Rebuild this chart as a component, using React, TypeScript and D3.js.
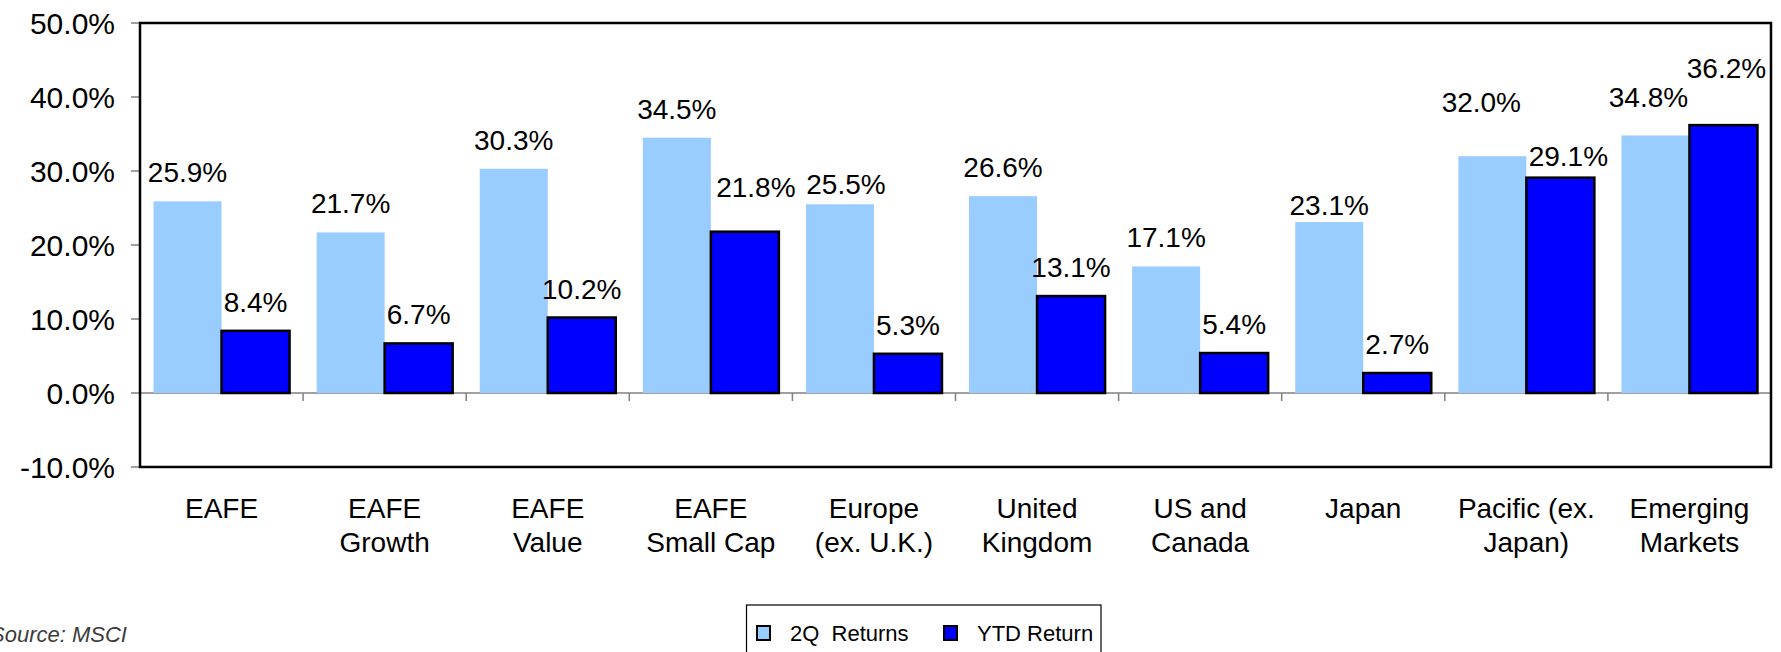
import * as d3 from "d3";

const categories = [
  "EAFE",
  "EAFE\nGrowth",
  "EAFE\nValue",
  "EAFE\nSmall Cap",
  "Europe\n(ex. U.K.)",
  "United\nKingdom",
  "US and\nCanada",
  "Japan",
  "Pacific (ex.\nJapan)",
  "Emerging\nMarkets",
];
const q2Returns = [25.9, 21.7, 30.3, 34.5, 25.5, 26.6, 17.1, 23.1, 32.0, 34.8];
const ytdReturns = [8.4, 6.7, 10.2, 21.8, 5.3, 13.1, 5.4, 2.7, 29.1, 36.2];
const yTicks = [-10, 0, 10, 20, 30, 40, 50];
const seriesKeys = ["q2", "ytd"];
const seriesNames = ["2Q  Returns", "YTD Return"];
const seriesColors = ["#99ccff", "#0000ff"];

// hand-placed labels in the original (to dodge neighbours)
const labelNudge: { [k: string]: [number, number] } = {
  "ytd-3": [11, -16],
  "q2-4": [6, 9],
  "q2-7": [0, 12],
  "q2-8": [-11, -25],
  "ytd-8": [8, 7],
  "q2-9": [-7, -9],
  "ytd-9": [3, -28],
};

const width = 1781;
const height = 652;
const font = "'Liberation Sans', Arial, sans-serif";

export default function App() {
  const left = 140, right = 1771, top = 23, bottom = 467;

  const y = d3.scaleLinear().domain([-10, 50]).range([bottom, top]);

  const x0 = d3
    .scaleBand()
    .domain(categories)
    .range([left, right])
    .paddingInner(0.166)
    .paddingOuter(0.083);

  const x1 = d3.scaleBand().domain(seriesKeys).range([0, x0.bandwidth()]);

  const step = x0.step();
  const series = [q2Returns, ytdReturns];

  return (
    <svg
      width={width}
      height={height}
      style={{ position: "absolute", left: 0, top: 0, background: "#fff" }}
      fontFamily={font}
    >
      {/* zero line + category ticks */}
      <line x1={left} x2={right} y1={y(0)} y2={y(0)} stroke="#808080" strokeWidth={1.5} />
      {d3.range(categories.length + 1).map((i) => (
        <line
          key={`ct-${i}`}
          x1={left + i * step}
          x2={left + i * step}
          y1={y(0)}
          y2={y(0) + 8}
          stroke="#808080"
          strokeWidth={1.5}
        />
      ))}

      {/* y ticks */}
      {yTicks.map((t) => (
        <g key={`yt-${t}`}>
          <line x1={left - 9} x2={left} y1={y(t)} y2={y(t)} stroke="#808080" strokeWidth={1.5} />
          <text
            x={115}
            y={y(t)}
            dy="0.36em"
            textAnchor="end"
            fontSize={30}
            fill="#000"
          >
            {`${t.toFixed(1)}%`}
          </text>
        </g>
      ))}

      {/* bars */}
      {categories.map((c, i) => (
        <g key={`cat-${i}`} transform={`translate(${x0(c)},0)`}>
          {seriesKeys.map((s, j) => {
            const v = series[j][i];
            return (
              <rect
                key={`bar-${s}-${i}`}
                x={x1(s)}
                y={y(v)}
                width={x1.bandwidth()}
                height={y(0) - y(v)}
                fill={seriesColors[j]}
                stroke={j === 1 ? "#000" : "none"}
                strokeWidth={2.5}
              />
            );
          })}
        </g>
      ))}

      {/* value labels */}
      {categories.map((c, i) =>
        seriesKeys.map((s, j) => {
          const v = series[j][i];
          const [dx, dy] = labelNudge[`${s}-${i}`] || [0, 0];
          return (
            <text
              key={`lbl-${s}-${i}`}
              x={(x0(c) || 0) + (x1(s) || 0) + x1.bandwidth() / 2 + dx}
              y={y(v) - 19 + dy}
              textAnchor="middle"
              fontSize={28}
              fill="#000"
            >
              {`${v.toFixed(1)}%`}
            </text>
          );
        })
      )}

      {/* plot border */}
      <rect
        x={left}
        y={top}
        width={right - left}
        height={bottom - top}
        fill="none"
        stroke="#000"
        strokeWidth={2.5}
      />

      {/* category labels */}
      {categories.map((c) => (
        <text
          key={`cl-${c}`}
          x={(x0(c) || 0) + x0.bandwidth() / 2}
          y={518}
          textAnchor="middle"
          fontSize={28}
          fill="#000"
        >
          {c.split("\n").map((line, k) => (
            <tspan key={k} x={(x0(c) || 0) + x0.bandwidth() / 2} dy={k === 0 ? 0 : 34}>
              {line}
            </tspan>
          ))}
        </text>
      ))}

      {/* source */}
      <text x={-10} y={642} fontSize={22} fontStyle="italic" fill="#3c3c3c">
        Source: MSCI
      </text>

      {/* legend */}
      <rect x={746.5} y={605} width={354.5} height={60} fill="#fff" stroke="#000" strokeWidth={1.2} />
      {seriesNames.map((n, j) => {
        const lx = j === 0 ? 757 : 944;
        return (
          <g key={`lg-${j}`}>
            <rect x={lx} y={626} width={13} height={14} fill={seriesColors[j]} stroke="#000" strokeWidth={2} />
            <text x={lx + 33} y={641} fontSize={22} fill="#000" style={{ whiteSpace: "pre" }}>
              {n}
            </text>
          </g>
        );
      })}
    </svg>
  );
}
